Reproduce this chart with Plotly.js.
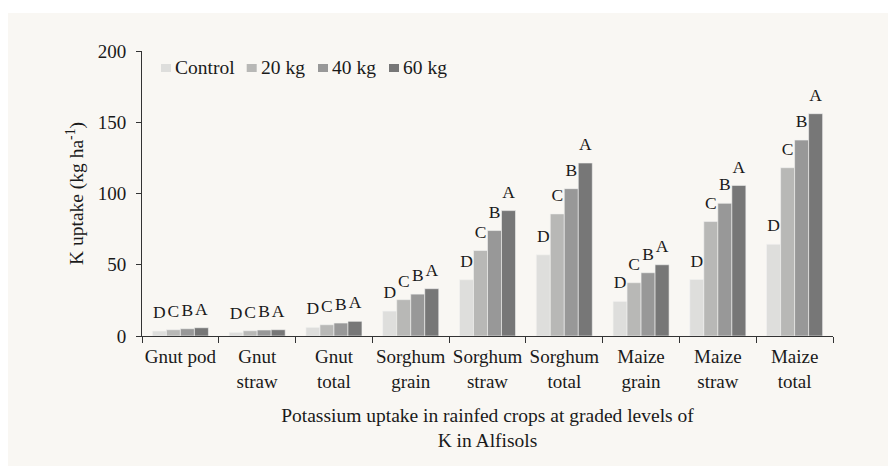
<!DOCTYPE html>
<html>
<head>
<meta charset="utf-8">
<script src="https://cdn.plot.ly/plotly-3.0.1.min.js"></script>
<style>
  html, body { margin: 0; padding: 0; background: #ffffff; }
  #chart { position: absolute; left: 8px; top: 13px; width: 880px; height: 453px; }
</style>
</head>
<body>
<div id="chart"></div>
<script>
const categories = ["Gnut pod", "Gnut<br>straw", "Gnut<br>total", "Sorghum<br>grain", "Sorghum<br>straw", "Sorghum<br>total", "Maize<br>grain", "Maize<br>straw", "Maize<br>total"];
const seriesNames = ["Control", "20 kg", "40 kg", "60 kg"];
const control = [3.5, 2.6, 6.1, 17.5, 39.5, 57.0, 24.3, 39.7, 64.4];
const kg20    = [4.4, 3.7, 7.9, 25.5, 60.0, 85.7, 37.4, 80.3, 118.1];
const kg40    = [5.1, 4.2, 9.1, 29.4, 74.0, 103.4, 44.4, 93.1, 137.5];
const kg60    = [5.8, 4.4, 10.3, 33.2, 88.0, 121.4, 50.0, 105.7, 156.0];
const letters = ["D", "C", "B", "A"];
const colors = ["#dededc", "#b8b8b6", "#989898", "#777777"];

const values = [control, kg20, kg40, kg60];
const serif = "Liberation Serif, Times New Roman, serif";
const ink = "#1a1a1a";

// plot-area geometry (pixels inside the chart div)
const W = 880, H = 453, ML = 134, MR = 55, MT = 38, MB = 130;
const PW = W - ML - MR, PH = H - MT - MB;
const px = x => (x - ML) / PW;
const py = y => 1 - (y - MT) / PH;

const barTraces = values.map((v, i) => ({
  type: "bar",
  name: seriesNames[i],
  x: categories,
  y: v,
  marker: { color: colors[i], line: { color: "#f4f4f2", width: 0.6 } },
  hoverinfo: "x+y+name"
}));

// significance letters, grouped like the bars, sitting just above each bar top
const letterTraces = values.map((v, i) => ({
  type: "scatter",
  mode: "markers+text",
  name: seriesNames[i] + " letters",
  x: categories,
  y: v,
  text: v.map(() => letters[i]),
  textposition: "top center",
  textfont: { family: serif, size: 17.5, color: ink },
  marker: { size: 12, opacity: 0, color: colors[i] },
  cliponaxis: false,
  hoverinfo: "skip",
  showlegend: false
}));

// legend drawn as swatches + text (left edges of each entry, in div pixels)
const legendSwatchX = [153, 238.7, 310, 381];
const legendShapes = seriesNames.map((n, i) => ({
  type: "rect", xref: "paper", yref: "paper",
  x0: px(legendSwatchX[i]), x1: px(legendSwatchX[i] + 10),
  y0: py(59), y1: py(51),
  fillcolor: colors[i], line: { width: 0 }
}));
const legendTexts = seriesNames.map((n, i) => ({
  xref: "paper", yref: "paper",
  x: px(legendSwatchX[i] + 12), y: py(54.5),
  xanchor: "left", yanchor: "middle",
  text: n, showarrow: false,
  font: { family: serif, size: 19.5, color: ink }
}));

const layout = {
  width: W,
  height: H,
  paper_bgcolor: "#f9f7f3",
  plot_bgcolor: "#f9f7f3",
  margin: { l: ML, r: MR, t: MT, b: MB },
  barmode: "group",
  bargap: 0.27,
  bargroupgap: 0,
  scattermode: "group",
  scattergap: 0.27,
  showlegend: false,
  shapes: legendShapes,
  annotations: legendTexts,
  xaxis: {
    type: "category",
    tickangle: 0,
    showline: true, linecolor: "#333333", linewidth: 1,
    ticks: "outside", tickson: "boundaries", ticklen: 6, tickcolor: "#333333",
    tickfont: { family: serif, size: 19, color: ink },
    ticklabelstandoff: 3,
    showgrid: false, zeroline: false,
    title: { text: "Potassium uptake in rainfed crops at graded levels of<br>K in Alfisols", font: { family: serif, size: 19.5, color: ink }, standoff: 17 }
  },
  yaxis: {
    range: [0, 200], dtick: 50,
    showline: true, linecolor: "#333333", linewidth: 1,
    ticks: "outside", ticklen: 5, tickcolor: "#333333",
    tickfont: { family: serif, size: 19, color: ink },
    ticklabelstandoff: 6,
    showgrid: false, zeroline: false,
    title: { text: "K uptake (kg ha<sup>-1</sup>)", font: { family: serif, size: 19.5, color: ink }, standoff: 8 }
  }
};

Plotly.newPlot("chart", barTraces.concat(letterTraces), layout, { displayModeBar: false, staticPlot: true });
</script>
</body>
</html>
